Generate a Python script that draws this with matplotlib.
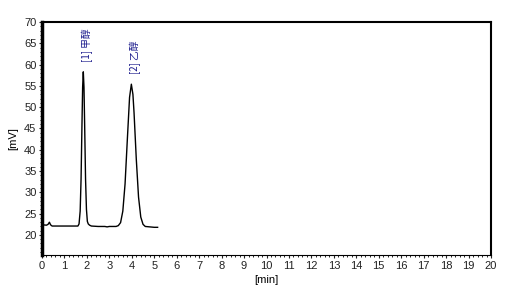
import matplotlib
matplotlib.use("Agg")
import matplotlib.pyplot as plt
from matplotlib.ticker import MultipleLocator, FixedLocator

# Data
time_min = [0.0, 0.2, 0.27, 0.33, 0.38, 0.45, 0.7, 1.0, 1.3, 1.6, 1.65, 1.7, 1.74, 1.78, 1.81, 1.84,
            1.87, 1.9, 1.94, 1.98, 2.02, 2.06, 2.12, 2.2, 2.5, 2.8, 2.9, 3.0, 3.3, 3.4, 3.5, 3.6,
            3.7, 3.8, 3.9, 3.98, 4.05, 4.1, 4.2, 4.3, 4.4, 4.5, 4.6, 4.8, 5.0, 5.15]
signal_mv = [22.4, 22.3, 22.5, 23.0, 22.4, 22.1, 22.1, 22.1, 22.1, 22.1, 22.6, 25.6, 33.1, 45.8, 54.7, 58.3,
             54.7, 45.8, 33.1, 26.0, 23.2, 22.6, 22.3, 22.1, 22.0, 22.0, 21.9, 22.0, 22.0, 22.2, 22.9, 25.6,
             32.0, 42.3, 52.3, 55.4, 53.0, 48.7, 37.8, 28.9, 24.2, 22.5, 22.0, 21.9, 21.8, 21.8]

peak_times = [1.84, 3.98]
peak_heights = [58.3, 55.4]
peak_labels = ["[1] 甲醇", "[2] 乙醇"]

x_ticks = list(range(0, 21))
y_ticks = list(range(20, 71, 5))

fig = plt.figure(figsize=(5.27, 3.01), dpi=100)
ax = fig.add_axes([42/527, 46/301, 449/527, 233/301])

ax.plot(time_min, signal_mv, color="black", lw=1.0)

ax.set_xlim(0, 20)
ax.set_ylim(15.3, 70)

ax.xaxis.set_major_locator(FixedLocator(x_ticks))
ax.xaxis.set_minor_locator(MultipleLocator(0.2))
ax.yaxis.set_major_locator(FixedLocator(y_ticks))
ax.yaxis.set_minor_locator(MultipleLocator(1))

lab_font = ["Liberation Sans", "DejaVu Sans"]
ax.tick_params(axis="both", which="major", labelsize=8, length=2, width=0.8, pad=2, colors="#222222")
ax.tick_params(axis="both", which="minor", length=1.2, width=0.6)
for lbl in ax.get_xticklabels() + ax.get_yticklabels():
    lbl.set_fontfamily(lab_font)

for s in ["top", "right"]:
    ax.spines[s].set_linewidth(1.5)
ax.spines["left"].set_linewidth(2.5)
ax.spines["bottom"].set_linewidth(0.8)

ax.set_xlabel("[min]", fontsize=8, family=lab_font, labelpad=3)
ax.set_ylabel("[mV]", fontsize=8, family=lab_font, labelpad=4)

cjk = ["Noto Sans CJK SC", "DejaVu Sans"]
for t, h, txt in zip(peak_times, peak_heights, peak_labels):
    ax.annotate(txt, xy=(t, h), xytext=(3, 7), textcoords="offset points",
                rotation=90, ha="center", va="bottom", fontsize=7, color="#1a1a8c",
                family=cjk)

fig.savefig("out.png", dpi=100)
